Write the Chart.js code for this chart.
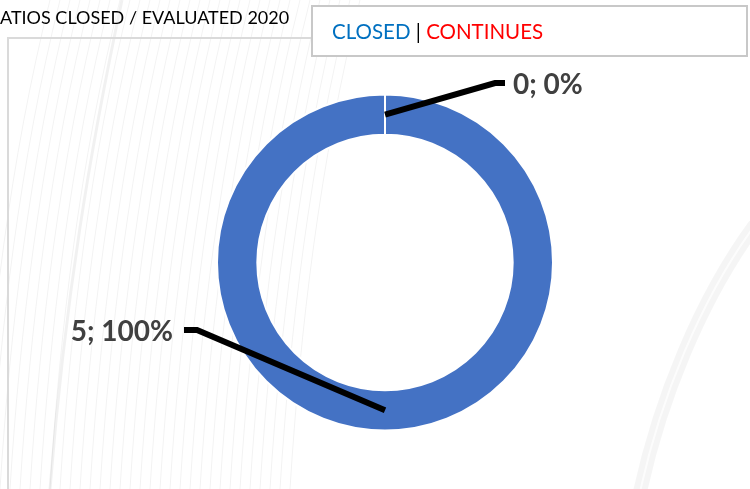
<!DOCTYPE html>
<html>
<head>
<meta charset="utf-8">
<script src="https://cdn.jsdelivr.net/npm/chart.js@4"></script>
<style>
  html, body { margin: 0; padding: 0; background: #fff; }
  #wrap { width: 750px; height: 489px; }
</style>
</head>
<body>
<div id="wrap"><canvas id="grafico" width="750" height="489"></canvas></div>
<script>
// datos del grafico
const categorias = ['CLOSED', 'CONTINUES'];
const valores = [5, 0];
const coloresAnillo = ['#4472c4', '#ed7d31'];
const coloresTexto = ['#0070c0', '#ff0000'];
const titulo = 'ATIOS CLOSED / EVALUATED 2020';

const total = valores.reduce((a, b) => a + b, 0);

// fondo con trazos grises, marco y titulo
const fondo = {
  id: 'fondo',
  beforeDraw(chart) {
    const ctx = chart.ctx;
    ctx.save();
    ctx.fillStyle = '#fff';
    ctx.fillRect(0, 0, chart.width, chart.height);

    ctx.lineWidth = 1;
    ctx.strokeStyle = 'rgba(0,0,0,0.05)';
    for (let i = 0; i < 32; i++) {
      const x0 = -20 + i * 10;
      ctx.beginPath();
      ctx.moveTo(x0, 489);
      ctx.bezierCurveTo(x0 + 10, 330, x0 + 30, 160, x0 + 70, 0);
      ctx.stroke();
    }
    ctx.strokeStyle = 'rgba(0,0,0,0.055)';
    ctx.lineWidth = 3;
    ctx.beginPath();
    ctx.moveTo(50, 489);
    ctx.bezierCurveTo(65, 300, 90, 150, 122, 0);
    ctx.stroke();

    // trazo ancho abajo a la derecha
    ctx.strokeStyle = 'rgba(0,0,0,0.04)';
    ctx.lineWidth = 14;
    ctx.beginPath();
    ctx.moveTo(755, 225);
    ctx.bezierCurveTo(700, 300, 660, 400, 640, 492);
    ctx.stroke();
    ctx.strokeStyle = 'rgba(255,255,255,0.7)';
    ctx.lineWidth = 2;
    ctx.stroke();

    // marco
    ctx.strokeStyle = '#dadada';
    ctx.lineWidth = 2;
    ctx.beginPath();
    ctx.moveTo(8, 489);
    ctx.lineTo(8, 38);
    ctx.lineTo(320, 38);
    ctx.stroke();

    ctx.fillStyle = '#000';
    ctx.font = '18px Lato';
    ctx.textBaseline = 'alphabetic';
    ctx.textAlign = 'left';
    ctx.fillText(titulo, 0, 24);
    ctx.restore();
  },
  afterDraw(chart) {
    const ctx = chart.ctx;
    ctx.save();
    // caja de leyenda
    ctx.fillStyle = '#fff';
    ctx.fillRect(312, 6, 435, 50);
    ctx.strokeStyle = '#c8c8c8';
    ctx.lineWidth = 2;
    ctx.strokeRect(312, 6, 435, 50);

    ctx.font = '20.5px Lato';
    ctx.textBaseline = 'middle';
    let x = 332;
    categorias.forEach((c, i) => {
      if (i > 0) {
        ctx.fillStyle = '#000';
        ctx.fillText(' | ', x, 32);
        x += ctx.measureText(' | ').width;
      }
      ctx.fillStyle = coloresTexto[i];
      ctx.fillText(c, x, 32);
      x += ctx.measureText(c).width;
    });

    // etiquetas con lineas guia
    const meta = chart.getDatasetMeta(0);
    const guias = [
      { codo: [-188, 67.5], fin: -13, lado: 'right' },
      { codo: [110, -179.5], fin: 10, lado: 'left' }
    ];
    meta.data.forEach((arc, i) => {
      const p = arc.getProps(['x', 'y', 'startAngle', 'endAngle', 'innerRadius', 'outerRadius'], true);
      const ang = (p.startAngle + p.endAngle) / 2;
      const r = (p.innerRadius + p.outerRadius) / 2;
      const ax = p.x + Math.cos(ang) * r;
      const ay = p.y + Math.sin(ang) * r;
      const g = guias[i];
      const ex = p.x + g.codo[0];
      const ey = p.y + g.codo[1];
      ctx.strokeStyle = '#000';
      ctx.lineWidth = 6;
      ctx.lineJoin = 'miter';
      ctx.beginPath();
      ctx.moveTo(ax, ay);
      ctx.lineTo(ex, ey);
      ctx.lineTo(ex + g.fin, ey);
      ctx.stroke();

      const pct = total ? Math.round(valores[i] / total * 100) : 0;
      ctx.fillStyle = '#404040';
      ctx.font = 'bold 28px Lato';
      ctx.textBaseline = 'middle';
      ctx.textAlign = g.lado;
      const tx = g.lado === 'left' ? ex + g.fin + 8 : ex + g.fin - 11;
      ctx.fillText(`${valores[i]}; ${pct}%`, tx, ey + 2);
    });
    ctx.restore();
  }
};

const ctx = document.querySelector('#grafico').getContext('2d');
const miGrafico = new Chart(ctx, {
  type: 'doughnut',
  data: {
    labels: categorias,
    datasets: [{
      data: valores,
      backgroundColor: coloresAnillo,
      borderColor: '#fff',
      borderWidth: 2
    }]
  },
  options: {
    responsive: false,
    animation: false,
    cutout: '76%',
    layout: { padding: { top: 93, bottom: 57, left: 216, right: 196 } },
    plugins: {
      legend: { display: false },
      tooltip: { enabled: false }
    }
  },
  plugins: [fondo]
});
</script>
</body>
</html>
